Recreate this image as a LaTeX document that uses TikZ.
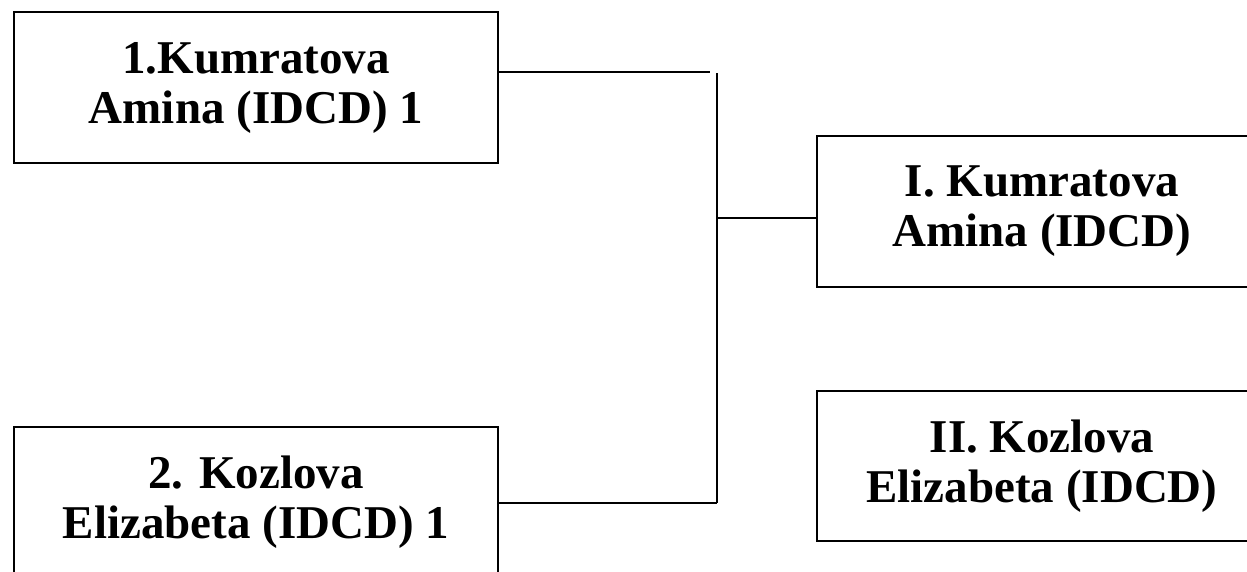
\documentclass[tikz,border=0pt]{standalone}
\usepackage{fontspec}
\setmainfont{Liberation Serif}
\usepackage{tikz}

\begin{document}
\begin{tikzpicture}[x=1pt, y=-1pt, line width=2pt,
              player/.style = {draw, align=center, inner sep=0pt, minimum height=151pt,
                               font=\fontsize{47}{50}\selectfont\bfseries}]
              \useasboundingbox (0,0) rectangle (1247,571);
              \clip (0,0) rectangle (1247,571);
              \node [player, minimum width=484pt] (kumr) at (256, 87.5) {1.Kumratova\\Amina (IDCD) 1};
              \node [player, minimum width=484pt] (kozl) at (256, 502.5) {2. Kozlova\\Elizabeta (IDCD) 1};
              \node [player, minimum width=450pt] (first) at (1042, 211.5) {I. Kumratova\\Amina (IDCD)};
              \node [player, minimum width=450pt, minimum height=150pt] (second) at (1042, 466) {II. Kozlova\\Elizabeta (IDCD)};
              \coordinate (topend) at (710, 72);
              \coordinate (bustop) at (717, 73);
              \coordinate (busmid) at (717, 218);
              \coordinate (busbot) at (717, 503);
              \draw (kumr.east |- topend) -- (topend);
              \draw (bustop) -- (busbot);
              \draw (kozl.east |- busbot) -- (busbot);
              \draw (busmid) -- (busmid -| first.west);
\end{tikzpicture}
\end{document}
